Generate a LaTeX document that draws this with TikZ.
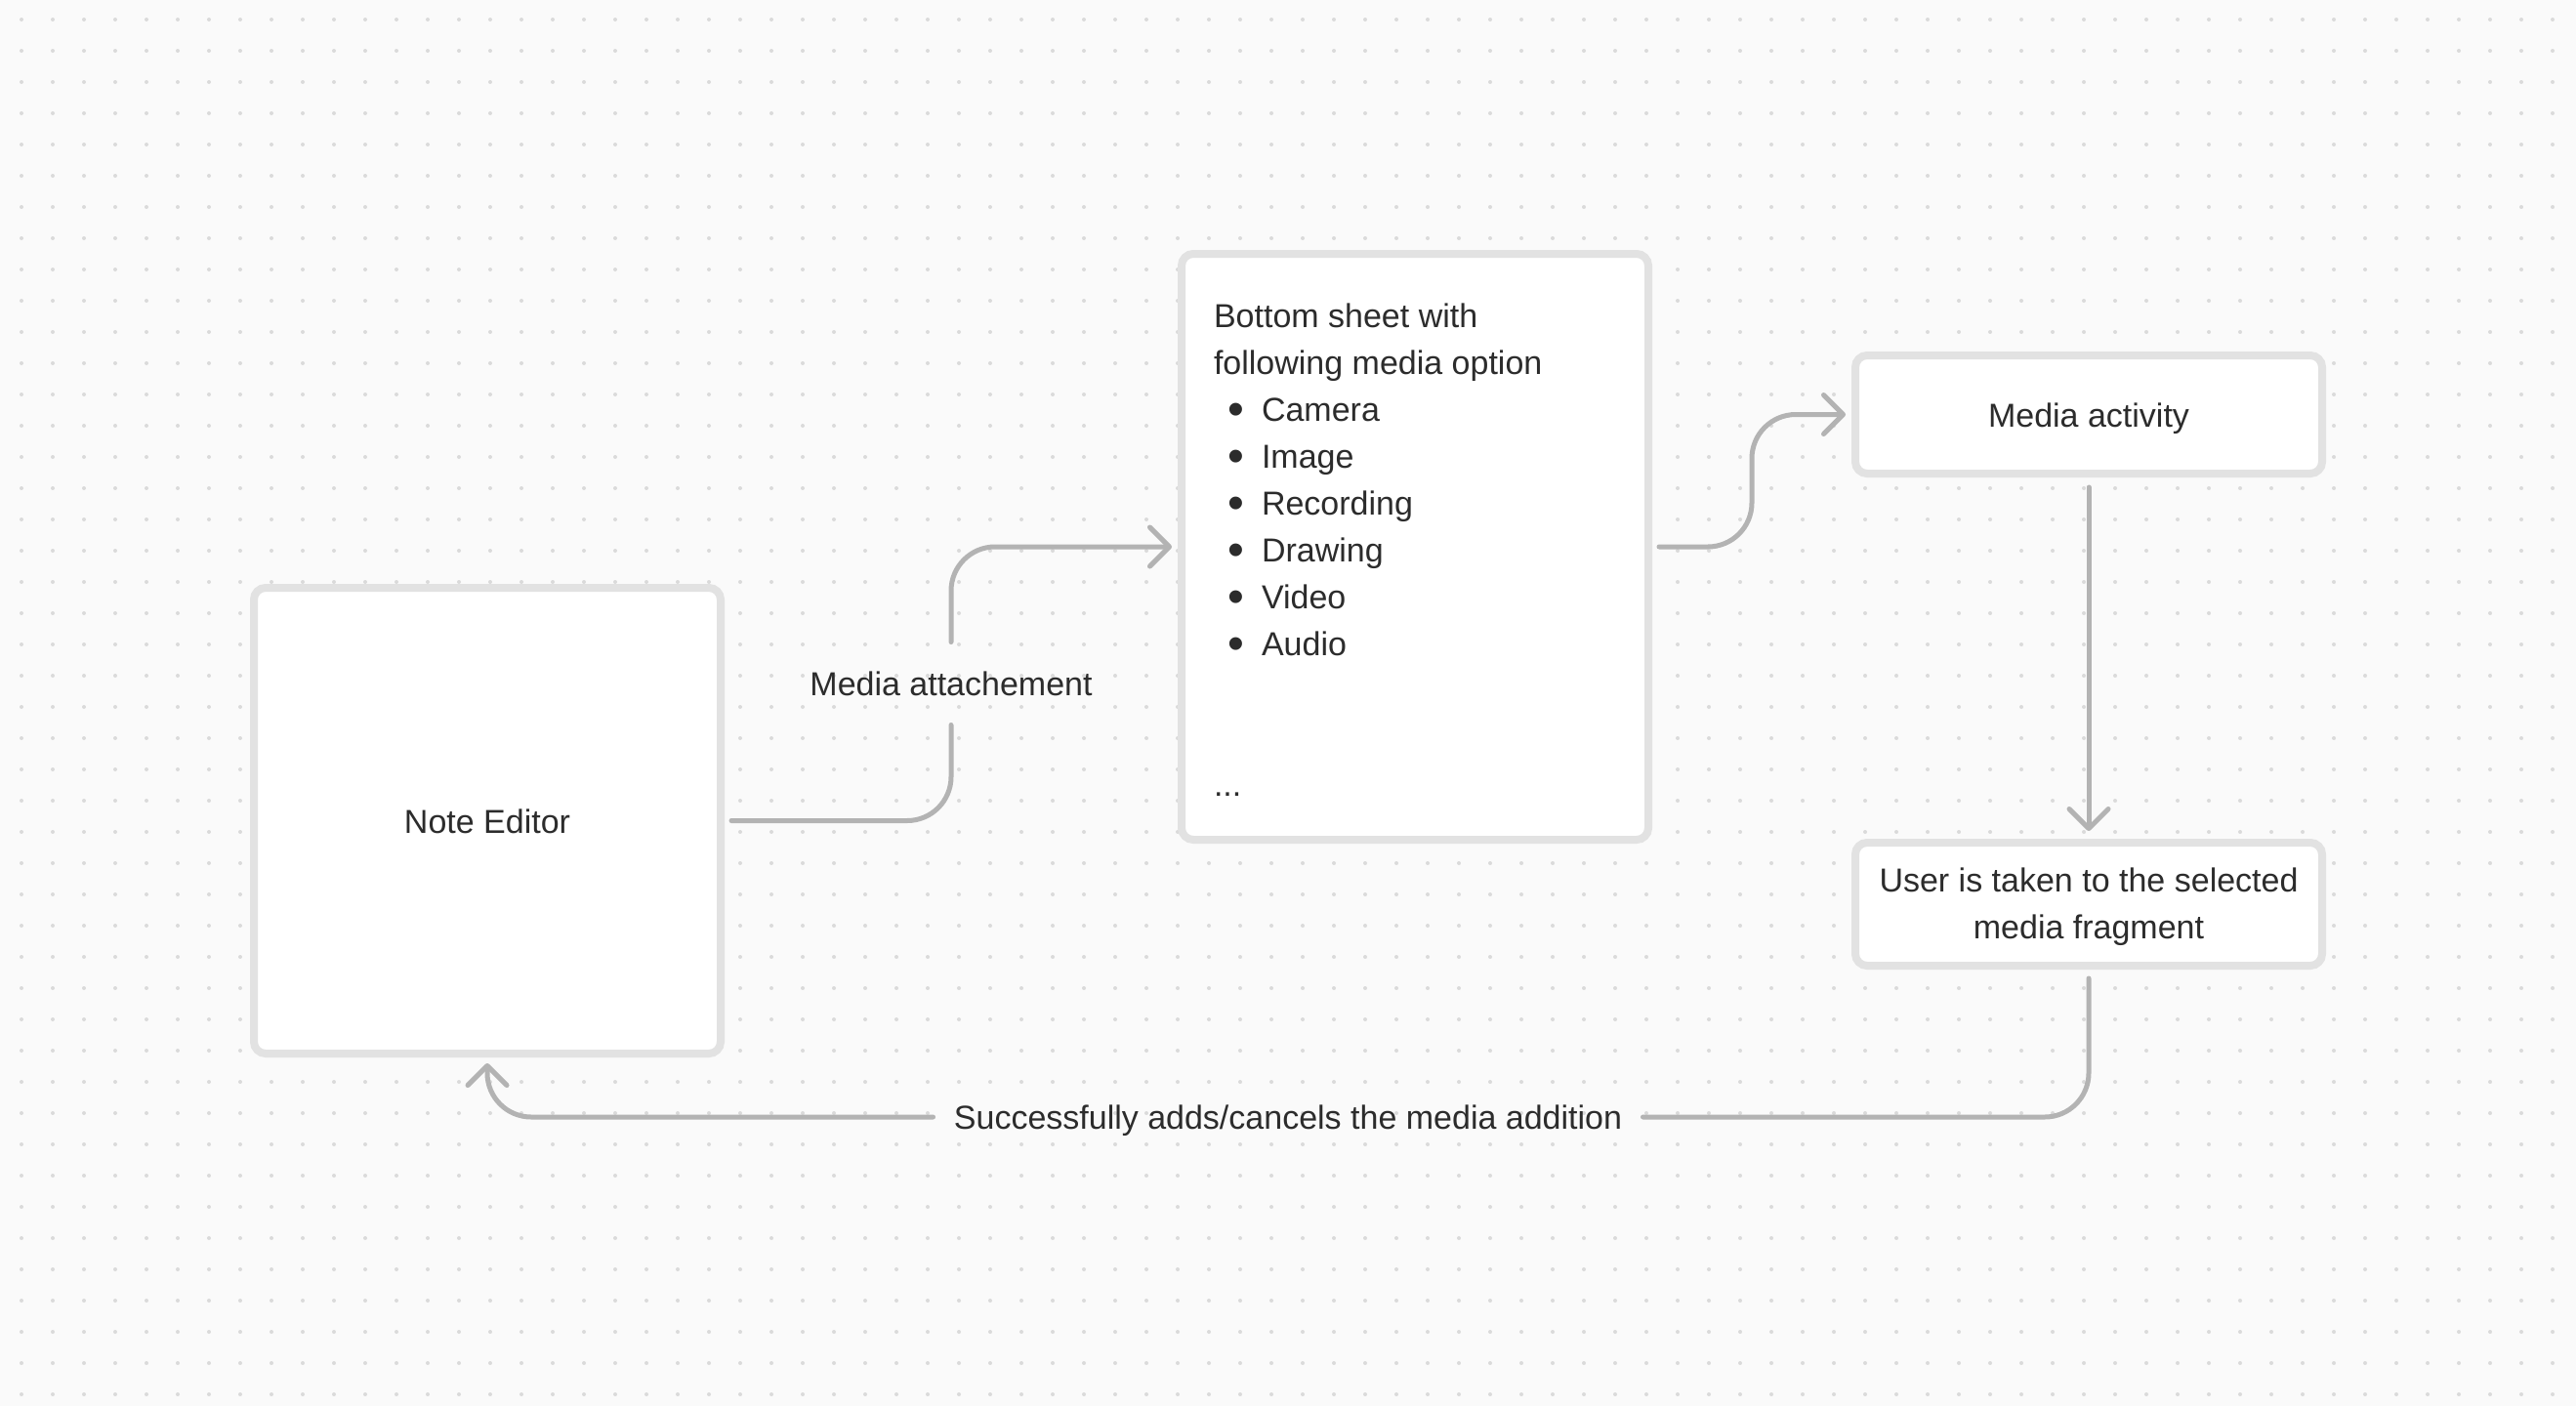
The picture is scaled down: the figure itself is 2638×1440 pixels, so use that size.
\documentclass[tikz,border=0pt]{standalone}
\usepackage{fontspec}
\setmainfont{Liberation Sans}
\usetikzlibrary{arrows.meta}
\definecolor{bg}{HTML}{FAFAFA}
\definecolor{dotc}{HTML}{DADADA}
\definecolor{boxline}{HTML}{E2E2E2}
\definecolor{conn}{HTML}{B3B3B3}
\definecolor{txt}{HTML}{2C2C2C}
\newcommand\fs{\fontsize{34}{48}\selectfont}
\newcommand\bul{\makebox[49pt][l]{\hspace{14.6pt}\raisebox{-4.5pt}{\fontsize{48}{48}\selectfont •}}}
\tikzset{
  box/.style={draw=boxline, line width=8pt, fill=white, rounded corners=12pt,
    inner sep=0pt, outer sep=0pt, minimum width=478pt, text=txt, font=\fs},
  oneline/.style={text height=25pt, text depth=0pt},
  lbl/.style={text=txt, font=\fs, inner sep=0pt, outer sep=0pt, text height=25pt, text depth=0pt},
  txtline/.style={anchor=base west, inner sep=0pt, outer sep=0pt, text=txt, font=\fs},
  connline/.style={draw=conn, line width=5pt, line cap=round, line join=round, rounded corners=45pt},
  tip/.style={-{Straight Barb[length=20pt,width=40pt,round]}},
}
\begin{document}
\begin{tikzpicture}[x=1pt,y=-1pt]
\useasboundingbox (0,0) rectangle (2638,1440);
\fill[bg] (0,0) rectangle (2638,1440);
\foreach \i in {0,...,81}{\foreach \j in {0,...,44}{\fill[dotc] ({22+32*\i},{20+32*\j}) circle (2pt);}}

% boxes
\node[box, oneline, minimum height=477pt] (ne) at (499,840.5) {Note Editor};
\node[box, minimum height=600pt] (sheet) at (1449,560) {};
\node[box, oneline, minimum height=121pt] (act) at (2139,424.5) {Media activity};
\node[box, minimum height=126pt] (user) at (2139,926) {};
\node[align=center, text=txt, font=\fs, inner sep=0pt] (usertxt) at ([yshift=-3pt]user.center) {User is taken to the selected\\media fragment};

% sheet text
\node[txtline] (s1) at (1243,335) {Bottom sheet with};
\node[txtline] (s2) at (1243,383) {following media option};
\node[txtline] (s3) at (1243,431) {\bul Camera};
\node[txtline] (s4) at (1243,479) {\bul Image};
\node[txtline] (s5) at (1243,527) {\bul Recording};
\node[txtline] (s6) at (1243,575) {\bul Drawing};
\node[txtline] (s7) at (1243,623) {\bul Video};
\node[txtline] (s8) at (1243,671) {\bul Audio};
\node[txtline] (s9) at (1243,815) {...};

% labels
\node[lbl, minimum height=85pt] (ma) at (974,700) {Media attachement};
\node[lbl, minimum width=727pt] (back) at (1319,1144) {Successfully adds/cancels the media addition};

% connectors
\draw[connline] ([xshift=11pt]ne.east) -| (ma.south);
\draw[connline, tip] (ma.north) |- ([xshift=-10pt]sheet.west);
\draw[connline, tip] ([xshift=11pt]sheet.east) -- ++(95,0) |- ([xshift=-10pt]act.west);
\draw[connline, tip] ([yshift=-14pt]act.south) -- ([yshift=12pt]user.north);
\draw[connline] ([yshift=-13pt]user.south) |- (back.east);
\draw[connline, tip] (back.west) -| ([yshift=-10pt]ne.south);
\end{tikzpicture}
\end{document}
